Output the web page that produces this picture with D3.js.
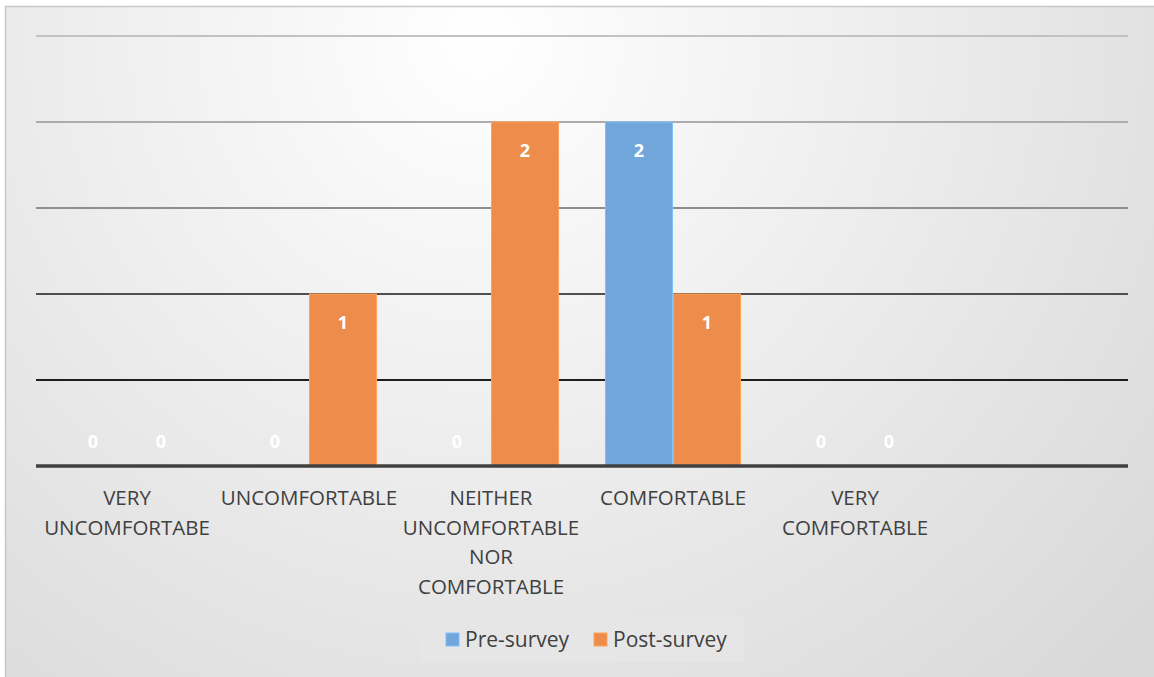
<!DOCTYPE html>
<html>
<head>
<meta charset="utf-8">
<script src="https://cdn.jsdelivr.net/npm/d3@7"></script>
<style>
  body { margin: 0; background: #fff; }
  svg { display: block; font-family: "Open Sans", "Noto Sans", sans-serif; }
</style>
</head>
<body>
<div id="chart"></div>
<script>
// data
const categories = ["VERY UNCOMFORTABE", "UNCOMFORTABLE", "NEITHER UNCOMFORTABLE NOR COMFORTABLE", "COMFORTABLE", "VERY COMFORTABLE", ""];
const categoryLines = [["VERY", "UNCOMFORTABE"], ["UNCOMFORTABLE"], ["NEITHER", "UNCOMFORTABLE", "NOR", "COMFORTABLE"], ["COMFORTABLE"], ["VERY", "COMFORTABLE"], []];
const seriesNames = ["Pre-survey", "Post-survey"];
const preSurvey = [0, 0, 0, 2, 0, null];
const postSurvey = [0, 1, 2, 1, 0, null];
const yTicks = [0.5, 1, 1.5, 2, 2.5];

function drawChart() {
  const width = 1154, height = 677;
  const margin = { top: 36, bottom: 211, left: 36, right: 26 }; // plot area 36..1128, 36..466
  const colors = { "Pre-survey": "#70a6da", "Post-survey": "#ee8d4b" };

  const svg = d3.select("#chart").append("svg")
    .attr("width", width)
    .attr("height", height);

  // soft radial background like the office chart style
  const defs = svg.append("defs");
  const grad = defs.append("radialGradient")
    .attr("id", "bg")
    .attr("gradientUnits", "userSpaceOnUse")
    .attr("cx", 480).attr("cy", 40).attr("r", 900);
  grad.append("stop").attr("offset", "0%").attr("stop-color", "#ffffff");
  grad.append("stop").attr("offset", "100%").attr("stop-color", "#d8d8d8");

  svg.append("rect")
    .attr("x", 5.5).attr("y", 6.5)
    .attr("width", 1160).attr("height", 690)
    .attr("fill", "url(#bg)")
    .attr("stroke", "#c8c8c8")
    .attr("stroke-width", 1.5);

  const rows = categories.map((c, i) => ({ cat: c, i: i, values: [preSurvey[i], postSurvey[i]] }));

  const x0 = d3.scaleBand()
    .domain(d3.range(categories.length))
    .range([margin.left, width - margin.right])
    .padding(0);

  const x1 = d3.scaleBand()
    .domain(seriesNames)
    .range([0, x0.bandwidth()])
    .paddingInner(0.015)
    .paddingOuter(0.345);

  const y = d3.scaleLinear()
    .domain([0, 2.5])
    .range([height - margin.bottom, margin.top]);

  // gridlines get darker towards the bottom
  const gridColor = d3.scaleOrdinal().domain(yTicks).range(["#1e1e1e", "#4f4f4f", "#8e8e8e", "#acacac", "#c2c2c2"]);

  svg.append("g")
    .selectAll("line")
    .data(yTicks)
    .join("line")
    .attr("x1", margin.left)
    .attr("x2", width - margin.right)
    .attr("y1", d => y(d))
    .attr("y2", d => y(d))
    .attr("stroke", d => gridColor(d))
    .attr("stroke-width", 1.8);

  // bars
  const groups = svg.append("g")
    .selectAll("g")
    .data(rows)
    .join("g")
    .attr("transform", d => `translate(${x0(d.i)},0)`);

  groups.selectAll("rect")
    .data(d => d.values.map((v, k) => ({ key: seriesNames[k], value: v })).filter(d => d.value))
    .join("rect")
    .attr("x", d => x1(d.key))
    .attr("y", d => y(d.value))
    .attr("width", x1.bandwidth())
    .attr("height", d => y(0) - y(d.value))
    .attr("fill", d => colors[d.key])
    .attr("stroke", d => d3.color(colors[d.key]).brighter(0.4))
    .attr("stroke-width", 1);

  // value labels: inside the bar top, zeros sit just above the baseline
  groups.selectAll("text")
    .data(d => d.values.map((v, k) => ({ key: seriesNames[k], value: v })).filter(d => d.value !== null))
    .join("text")
    .attr("x", d => x1(d.key) + x1.bandwidth() / 2)
    .attr("y", d => d.value > 0 ? y(d.value) + 35 : y(0) - 18)
    .attr("text-anchor", "middle")
    .attr("fill", "#ffffff")
    .attr("font-size", "18px")
    .attr("font-weight", "bold")
    .text(d => d.value);

  // baseline
  svg.append("line")
    .attr("x1", margin.left)
    .attr("x2", width - margin.right)
    .attr("y1", y(0))
    .attr("y2", y(0))
    .attr("stroke", "#404040")
    .attr("stroke-width", 3.5);

  // category labels (wrapped)
  svg.append("g")
    .selectAll("text")
    .data(rows)
    .join("text")
    .attr("x", d => x0(d.i) + x0.bandwidth() / 2)
    .attr("y", y(0) + 39)
    .attr("text-anchor", "middle")
    .attr("fill", "#404040")
    .attr("font-size", "20.5px")
    .each(function(d) {
      const t = d3.select(this);
      categoryLines[d.i].forEach((line, j) => {
        t.append("tspan")
          .attr("x", x0(d.i) + x0.bandwidth() / 2)
          .attr("dy", j === 0 ? 0 : 29.5)
          .text(line);
      });
    });

  // legend
  const legend = svg.append("g");
  legend.append("rect")
    .attr("x", 419).attr("y", 617)
    .attr("width", 325).attr("height", 45)
    .attr("fill", "#e6e6e6");

  const legendX = [446, 594];
  seriesNames.forEach((s, k) => {
    legend.append("rect")
      .attr("x", legendX[k]).attr("y", 633)
      .attr("width", 13).attr("height", 13)
      .attr("fill", colors[s])
      .attr("stroke", d3.color(colors[s]).brighter(0.4));
    legend.append("text")
      .attr("x", legendX[k] + 19)
      .attr("y", 647)
      .attr("fill", "#404040")
      .attr("font-size", "21px")
      .text(s);
  });
}

drawChart();
</script>
</body>
</html>
